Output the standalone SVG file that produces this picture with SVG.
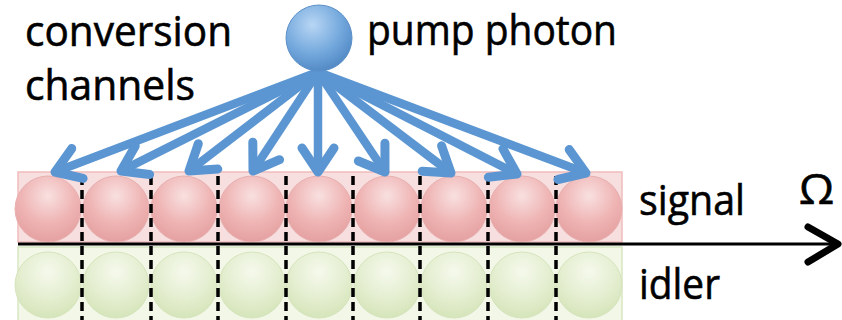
<svg xmlns="http://www.w3.org/2000/svg" width="842" height="320" viewBox="0 0 842 320">
<defs>
<radialGradient id="gPump" cx="0.4" cy="0.3" r="0.75">
<stop offset="0" stop-color="#b8d6f4"/>
<stop offset="0.6" stop-color="#72a7dc"/>
<stop offset="1" stop-color="#4f86c2"/>
</radialGradient>
<radialGradient id="gSig" cx="0.5" cy="0.3" r="0.75">
<stop offset="0" stop-color="#f9e0e0"/>
<stop offset="0.55" stop-color="#efb4b4"/>
<stop offset="1" stop-color="#e39d9d"/>
</radialGradient>
<radialGradient id="gIdl" cx="0.5" cy="0.3" r="0.75">
<stop offset="0" stop-color="#f5f9ec"/>
<stop offset="0.55" stop-color="#e4eed0"/>
<stop offset="1" stop-color="#d3e3b6"/>
</radialGradient>
<marker id="head" markerUnits="userSpaceOnUse" markerWidth="40" markerHeight="40" viewBox="-30 -20 40 40" refX="0" refY="0" orient="auto" overflow="visible">
<path d="M -24 -16 L 0 0 L -24 16" fill="none" stroke="#5b96d2" stroke-width="9" stroke-linecap="round" stroke-linejoin="round"/>
</marker>
<style>
.lbl{font-family:"Open Sans","Liberation Sans",sans-serif;font-size:42px;fill:#000;stroke:#000;stroke-width:0.6}
.sig{fill:url(#gSig);stroke:#e8b0b0;stroke-width:1}
.idl{fill:url(#gIdl);stroke:#d6e4bd;stroke-width:1}
.dash{stroke:#000;stroke-width:3.5;stroke-dasharray:9 5}
.arr{stroke:#5b96d2;stroke-width:8.5;fill:none;stroke-linecap:butt;marker-end:url(#head)}
</style>
</defs>

<g id="signal-row">
<rect x="18" y="172" width="604" height="70" fill="#f8dfdf" stroke="#efbcbc" stroke-width="1.5"/>
<circle class="sig" cx="48" cy="209" r="33"/>
<circle class="sig" cx="116" cy="209" r="33"/>
<circle class="sig" cx="184" cy="209" r="33"/>
<circle class="sig" cx="252" cy="209" r="33"/>
<circle class="sig" cx="319" cy="209" r="33"/>
<circle class="sig" cx="387" cy="209" r="33"/>
<circle class="sig" cx="454" cy="209" r="33"/>
<circle class="sig" cx="522" cy="209" r="33"/>
<circle class="sig" cx="589" cy="209" r="33"/>
</g>

<g id="idler-row">
<rect x="18" y="247" width="604" height="75" fill="#f2f7e8" stroke="#d8e7c2" stroke-width="1.5"/>
<circle class="idl" cx="48" cy="285" r="33"/>
<circle class="idl" cx="116" cy="285" r="33"/>
<circle class="idl" cx="184" cy="285" r="33"/>
<circle class="idl" cx="252" cy="285" r="33"/>
<circle class="idl" cx="319" cy="285" r="33"/>
<circle class="idl" cx="387" cy="285" r="33"/>
<circle class="idl" cx="454" cy="285" r="33"/>
<circle class="idl" cx="522" cy="285" r="33"/>
<circle class="idl" cx="589" cy="285" r="33"/>
</g>

<g id="dividers">
<line class="dash" x1="82" y1="176" x2="82" y2="320"/>
<line class="dash" x1="151" y1="176" x2="151" y2="320"/>
<line class="dash" x1="218" y1="176" x2="218" y2="320"/>
<line class="dash" x1="286" y1="176" x2="286" y2="320"/>
<line class="dash" x1="353" y1="176" x2="353" y2="320"/>
<line class="dash" x1="420" y1="176" x2="420" y2="320"/>
<line class="dash" x1="488" y1="176" x2="488" y2="320"/>
<line class="dash" x1="556" y1="176" x2="556" y2="320"/>
</g>

<g id="axis">
<line x1="18" y1="244" x2="836" y2="244" stroke="#000" stroke-width="3"/>
<path d="M 808 227 L 838 244 L 808 262" fill="none" stroke="#000" stroke-width="7" stroke-linecap="round" stroke-linejoin="round"/>
<text x="799" y="204" textLength="35" lengthAdjust="spacingAndGlyphs" style="font-family:'Open Sans','Liberation Sans',sans-serif;font-size:42px;stroke:#000;stroke-width:0.6">Ω</text>
</g>

<g id="connectors">
<line class="arr" x1="318" y1="72" x2="55" y2="172"/>
<line class="arr" x1="318" y1="72" x2="121" y2="171"/>
<line class="arr" x1="318" y1="72" x2="189" y2="171"/>
<line class="arr" x1="318" y1="72" x2="253" y2="171"/>
<line class="arr" x1="318" y1="72" x2="318" y2="172"/>
<line class="arr" x1="318" y1="72" x2="385" y2="172"/>
<line class="arr" x1="318" y1="72" x2="451" y2="173"/>
<line class="arr" x1="318" y1="72" x2="517" y2="174"/>
<line class="arr" x1="318" y1="72" x2="586" y2="173"/>
</g>

<g id="pump">
<circle cx="319" cy="38" r="33" fill="url(#gPump)" stroke="#5a8fc8" stroke-width="1"/>
</g>

<g id="labels">
<text class="lbl" x="25" y="46" textLength="207" lengthAdjust="spacingAndGlyphs">conversion</text>
<text class="lbl" x="25" y="100" textLength="170" lengthAdjust="spacingAndGlyphs">channels</text>
<text class="lbl" x="367" y="45" textLength="250" lengthAdjust="spacingAndGlyphs">pump photon</text>
<text class="lbl" x="639" y="215" textLength="106" lengthAdjust="spacingAndGlyphs">signal</text>
<text class="lbl" x="639" y="299" textLength="81" lengthAdjust="spacingAndGlyphs">idler</text>
</g>
</svg>
